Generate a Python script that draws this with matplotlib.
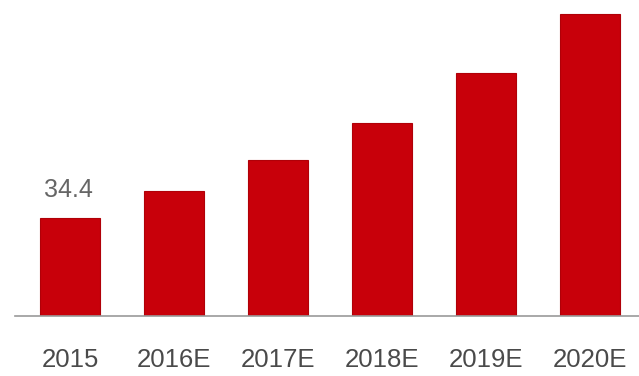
import matplotlib.pyplot as plt

years = ['2015', '2016E', '2017E', '2018E', '2019E', '2020E']
values = [34.4, 43.9, 54.8, 67.8, 85.3, 106.0]
label_first = '34.4'

fig = plt.figure(figsize=(6.39, 3.76), dpi=100)
ax = fig.add_axes([15 / 639, 60 / 376, 624 / 639, 316 / 376])

x = range(len(years))
ax.bar(x, values, width=0.57, color='#c8000a', edgecolor='#b00008', linewidth=0.8)

# only the first bar carries a value label
ax.text(-0.02, values[0] + 5.5, label_first, ha='center', va='bottom',
        fontsize=18, color='#666666', family='Liberation Sans')

ax.set_xlim(-0.53, 5.47)
ax.set_ylim(0, 110.9)

for s in ['top', 'right', 'left']:
    ax.spines[s].set_visible(False)
ax.spines['bottom'].set_color('#999999')
ax.spines['bottom'].set_linewidth(1.2)
ax.set_yticks([])
ax.set_xticks(list(x))
ax.set_xticklabels(years, fontsize=18.5, color='#4a4a4a', family='Liberation Sans')
ax.tick_params(axis='x', length=0, pad=23)

fig.savefig('out.png', dpi=100)
